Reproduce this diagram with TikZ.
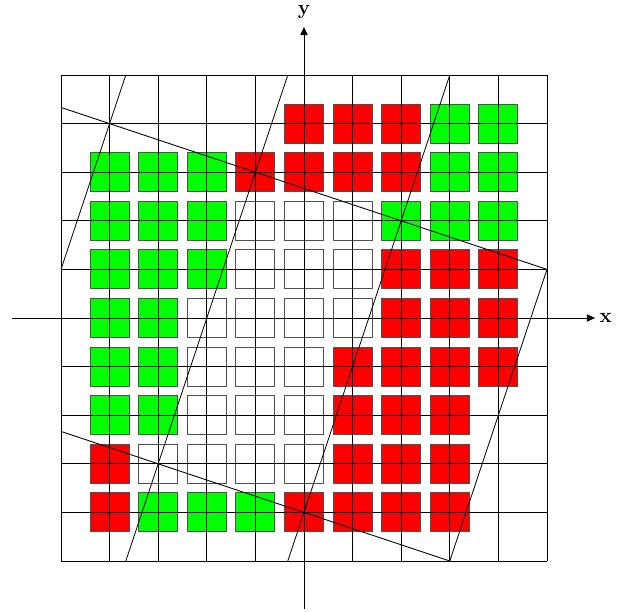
\documentclass[tikz,border=0pt]{standalone}
\usetikzlibrary{arrows.meta}
\definecolor{sqred}{RGB}{255,0,0}
\definecolor{sqgreen}{RGB}{0,255,0}
\definecolor{sqedge}{RGB}{80,80,80}
\tikzset{
  cell/.style={draw=sqedge,line width=0.6pt},
  gridline/.style={black,line width=0.5pt},
  slant/.style={black,line width=0.5pt},
  axis/.style={black,line width=0.5pt,-{Triangle[length=1.7mm,width=1.5mm]}},
  axlabel/.style={font=\bfseries\large}
}
\begin{document}
\begin{tikzpicture}[x=1cm,y=1cm]
\useasboundingbox (-6.255,-6.049) rectangle (6.564,6.543);
% red cells
\foreach \p in {(0,4),(1,4),(2,4),
  (-1,3),(0,3),(1,3),(2,3),
  (2,1),(3,1),(4,1),
  (2,0),(3,0),(4,0),
  (1,-1),(2,-1),(3,-1),(4,-1),
  (1,-2),(2,-2),(3,-2),
  (-4,-3),(1,-3),(2,-3),(3,-3),
  (-4,-4),(0,-4),(1,-4),(2,-4),(3,-4)}
  \path[cell,fill=sqred] \p ++(-0.4,-0.4) rectangle ++(0.8,0.8);
% green cells
\foreach \p in {(3,4),(4,4),
  (-4,3),(-3,3),(-2,3),(3,3),(4,3),
  (-4,2),(-3,2),(-2,2),(2,2),(3,2),(4,2),
  (-4,1),(-3,1),(-2,1),
  (-4,0),(-3,0),
  (-4,-1),(-3,-1),
  (-4,-2),(-3,-2),
  (-3,-4),(-2,-4),(-1,-4)}
  \path[cell,fill=sqgreen] \p ++(-0.4,-0.4) rectangle ++(0.8,0.8);
% white cells
\foreach \p in {(-1,2),(0,2),(1,2),
  (-1,1),(0,1),(1,1),
  (-2,0),(-1,0),(0,0),(1,0),
  (-2,-1),(-1,-1),(0,-1),
  (-2,-2),(-1,-2),(0,-2),
  (-3,-3),(-2,-3),(-1,-3),(0,-3)}
  \path[cell,fill=white] \p ++(-0.4,-0.4) rectangle ++(0.8,0.8);
% grid
\draw[gridline] (-5,-5) grid (5,5);
% slanted lines
\coordinate (a1) at (-5,1);
\coordinate (a2) at (-11/3,5);
\coordinate (b1) at (-1/3,5);
\coordinate (b2) at (-11/3,-5);
\coordinate (c1) at (3,5);
\coordinate (c2) at (-1/3,-5);
\coordinate (d1) at (5,1);
\coordinate (d2) at (3,-5);
\coordinate (e1) at (-5,13/3);
\coordinate (f1) at (-5,-7/3);
\draw[slant] (a1) -- (a2);
\draw[slant] (b1) -- (b2);
\draw[slant] (c1) -- (c2);
\draw[slant] (d1) -- (d2);
\draw[slant] (e1) -- (d1);
\draw[slant] (f1) -- (d2);
% axes
\coordinate (xs) at (-6,0);
\coordinate (xe) at (5.99,0);
\coordinate (ys) at (0,-5.99);
\coordinate (ye) at (0,5.99);
\draw[axis] (xs) -- (xe);
\draw[axis] (ys) -- (ye);
\node[axlabel] (xl) at (6.21,0) {x};
\node[axlabel] (yl) at (0,6.3) {y};
\end{tikzpicture}
\end{document}
